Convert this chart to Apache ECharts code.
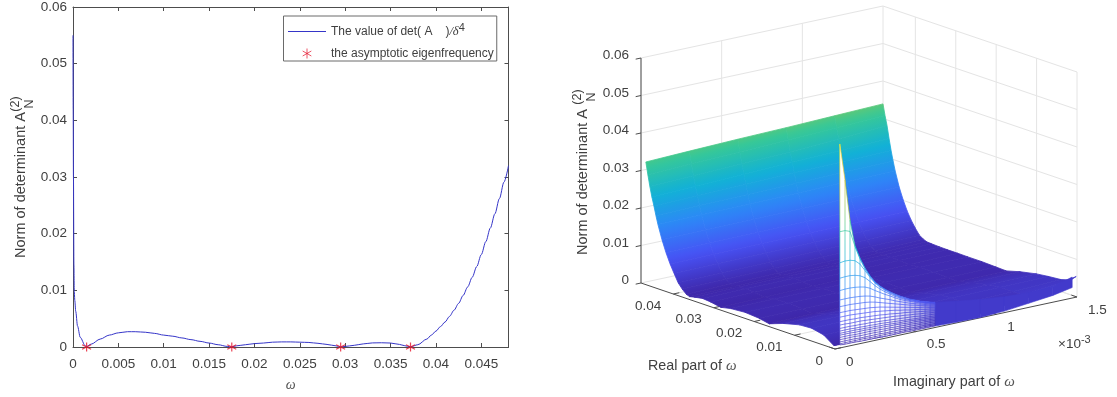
<!DOCTYPE html>
<html><head><meta charset="utf-8">
<style>html,body{margin:0;padding:0;background:#fff}#c{width:1117px;height:397px}</style>
<script src="https://cdn.jsdelivr.net/npm/echarts@6/dist/echarts.min.js"></script>
</head><body><div id="c"></div>
<script>
// ---------- left panel data ----------
const curveOmega=[0,0.00002,0.00005,0.0001,0.00014,0.0002,0.0003,0.0005,0.0008,0.00135,0.0015,0.002,0.003,0.004,0.005,0.006,0.00686,0.008,0.009,0.01,0.011,0.012,0.013,0.014,0.015,0.016,0.017,0.0175,0.018,0.019,0.02,0.021,0.022,0.023,0.024,0.025,0.026,0.027,0.028,0.029,0.0295,0.03,0.031,0.032,0.033,0.034,0.035,0.036,0.0365,0.0372,0.038,0.039,0.0395,0.04,0.0405,0.041,0.0415,0.042,0.0425,0.043,0.0435,0.044,0.0445,0.045,0.0455,0.046,0.0465,0.047,0.0475,0.048];
const curveValue=[0.055,0.042,0.03,0.0145,0.0098,0.0082,0.0063,0.0037,0.0017,0.0002,0.0001,0.0005,0.0014,0.0021,0.0025,0.0027,0.0027,0.0026,0.0024,0.0021,0.0019,0.0016,0.0013,0.001,0.0007,0.0004,0.0001,0.00003,0.0002,0.0004,0.0006,0.0007,0.00085,0.0009,0.0009,0.00085,0.0008,0.00065,0.00045,0.0002,0.00003,0.0001,0.0003,0.00055,0.00072,0.00075,0.0007,0.00045,0.00025,0.00003,0.0004,0.0014,0.0021,0.0028,0.0036,0.0044,0.0054,0.0065,0.0077,0.0091,0.0106,0.0123,0.0142,0.0163,0.0186,0.021,0.0235,0.0262,0.0291,0.032];
const eigenOmega=[0.0015,0.0175,0.0295,0.0372];
const xTicks=[0,0.005,0.01,0.015,0.02,0.025,0.03,0.035,0.04,0.045];
const yTicks=[0,0.01,0.02,0.03,0.04,0.05,0.06];

// ---------- right panel data (omega re, omega im in 1e-3, z in 1e-3) ----------
const reTicks=[0,0.01,0.02,0.03,0.04];
const imTicks=[0,0.5,1,1.5];
const zTicks=[0,0.01,0.02,0.03,0.04,0.05,0.06];
const surfIm=[0.03,0.3,0.6,0.9,1.2,1.5];
const surfRe=[0.048,0.0475,0.047,0.0465,0.046,0.0455,0.045,0.044,0.043,0.042,0.041,0.04,0.039,0.038,0.0372,0.036,0.034,0.032,0.0295,0.027,0.0235,0.02,0.0175,0.014,0.01,0.007,0.004,0.0015,0.0002];
const surfZ=[
[32,32.4,32.8,33.1,33.5,33.9],[28.8,29.2,29.6,30,30.5,31],[25.8,26.2,26.6,27,27.7,28.5],[23.2,23.6,24,24.4,24.8,25.2],
[21,21.2,21.5,21.8,22,22.2],[18.6,18.8,19,19.2,19.4,19.6],[16.4,16.5,16.6,16.8,17,17.2],[12.7,12.8,12.9,13,13.1,13.2],
[9.6,9.7,9.8,9.9,10,10.1],[7,7.1,7.2,7.3,7.4,7.5],[4.8,4.9,5,5.1,5.2,5.4],[2.7,2.8,3,3.2,3.4,3.7],
[1.4,1.5,1.7,1.9,2,2.2],[0.4,0.6,0.8,1,1.2,1.5],[0.05,0.2,0.4,0.6,0.8,1.1],[0.35,0.5,0.6,0.7,0.8,1],
[0.75,0.8,0.85,0.9,0.9,0.9],[0.55,0.6,0.65,0.7,0.75,0.85],[0.03,0.2,0.35,0.5,0.65,0.85],[0.6,0.65,0.7,0.75,0.8,0.8],
[0.9,0.9,0.85,0.85,0.85,0.8],[0.6,0.65,0.65,0.65,0.65,0.65],[0.03,0.2,0.3,0.4,0.5,0.55],[1.4,1.5,1.5,1.5,1.5,1.6],
[2.5,2.5,2.4,2.4,2.4,2.5],[2.7,2.7,2.7,2.7,2.8,2.9],[2,2.1,2.2,2.4,2.7,3.2],[0.1,0.6,1.2,2,2.8,4],[0.8,0.4,0.6,1,2.5,5.4]];
const wallIm=[0.03,0.062,0.093,0.124,0.155,0.186,0.217,0.248,0.279,0.31,0.341,0.372,0.403,0.434,0.465,0.496,0.527,0.558,0.589,0.62];
const wallZ=[
[54.4,44.5,33.5,26.4,22.8,19.9,17.5,15.6,14.2,13.1,12.1,11.2,10.4,9.7,9,8.5,7.9,7.5,7.1,6.7],
[31,31,30.5,26.2,22.6,19.7,17.4,15.5,14.1,13,12,11.1,10.3,9.6,8.9,8.4,7.8,7.4,7,6.6],
[22.7,22.9,22.8,22.4,21.2,19.2,17.1,15.3,13.9,12.8,11.8,10.9,10.1,9.4,8.8,8.3,7.7,7.3,6.9,6.5],
[18.6,18.7,18.7,18.5,18.1,17.3,16,14.6,13.4,12.4,11.5,10.6,9.9,9.2,8.6,8.1,7.6,7.2,6.8,6.4],
[15.3,15.4,15.4,15.3,15.1,14.8,14.2,13.3,12.5,11.7,11,10.2,9.5,8.9,8.4,7.9,7.4,7,6.6,6.2],
[12.8,12.8,12.8,12.7,12.6,12.4,12.1,11.6,11,10.5,10,9.4,8.9,8.4,7.9,7.5,7.1,6.7,6.3,6],
[11,11,11,10.9,10.8,10.7,10.5,10.2,9.8,9.4,9,8.6,8.2,7.8,7.4,7.1,6.7,6.4,6,5.7],
[9.4,9.4,9.4,9.3,9.2,9.1,9,8.8,8.6,8.3,8,7.7,7.4,7.1,6.8,6.5,6.2,6,5.6,5.3],
[8.2,8.2,8.2,8.1,8,7.9,7.8,7.7,7.5,7.3,7.1,6.9,6.6,6.4,6.1,5.9,5.7,5.4,5.2,4.9],
[7,7,7,6.9,6.9,6.8,6.7,6.6,6.5,6.3,6.2,6,5.8,5.7,5.5,5.3,5.1,4.9,4.7,4.5],
[6.1,6.1,6,6,6,5.9,5.8,5.7,5.6,5.5,5.4,5.3,5.1,5,4.8,4.7,4.5,4.4,4.2,4.1],
[5.2,5.2,5.2,5.1,5.1,5,5,4.9,4.8,4.7,4.6,4.5,4.4,4.3,4.2,4.1,3.9,3.8,3.7,3.6],
[4.5,4.5,4.5,4.4,4.4,4.3,4.3,4.2,4.2,4.1,4,3.9,3.8,3.7,3.6,3.5,3.4,3.3,3.2,3.1],
[3.9,3.9,3.9,3.9,3.8,3.8,3.7,3.7,3.6,3.6,3.5,3.4,3.3,3.3,3.2,3.1,3,2.9,2.8,2.7],
[3.4,3.4,3.4,3.3,3.3,3.3,3.2,3.2,3.1,3.1,3,3,2.9,2.8,2.7,2.7,2.6,2.5,2.4,2.3],
[2.8,2.8,2.8,2.7,2.7,2.7,2.7,2.6,2.6,2.5,2.5,2.4,2.4,2.3,2.3,2.2,2.1,2.1,2,1.9],
[2.2,2.2,2.2,2.2,2.1,2.1,2.1,2.1,2,2,2,1.9,1.9,1.8,1.8,1.7,1.7,1.6,1.6,1.5],
[1.6,1.6,1.6,1.6,1.5,1.5,1.5,1.5,1.5,1.4,1.4,1.4,1.4,1.3,1.3,1.2,1.2,1.2,1.1,1.1],
[1.1,1.1,1.1,1.1,1.1,1.1,1,1,1,1,1,0.9,0.9,0.9,0.9,0.8,0.8,0.8,0.8,0.7],
[0.8,0.7,0.7,0.7,0.6,0.6,0.6,0.6,0.6,0.5,0.5,0.5,0.5,0.5,0.4,0.4,0.4,0.4,0.4,0.4]];
const wallTint=[0,0,0,0,0,0,0,0,0,0.04,0.08,0.12,0.18,0.24,0.3,0.38,0.46,0.56,0.68,0.8];
const stripIm=[0.62,0.75,0.9,1.05,1.2,1.35,1.47];
const stripTop=[6.7,5.8,4.9,4.2,3.9,4.1,5.6];
const stripBottom=[0.4,0.2,0.1,0.4,1.1,1.8,2.8];

const parula=['#3e26a8','#4752f4','#2d87f7','#12b1d6','#37c897','#abc739','#fec338','#f9fb15'];
const TXT='#404040', AX='#4d4d4d', GRIDC='#e4e4e4', BLUE='#3535c8';
const SANS='"Liberation Sans",Arial,sans-serif', SERIF='"Liberation Serif",serif';

function hex(c){return [1,3,5].map(i=>parseInt(c.substr(i,2),16));}
function pcolor(z){ // z in 1e-3
  let t=Math.max(0,Math.min(1,z/55))*(parula.length-1);
  let i=Math.min(parula.length-2,Math.floor(t)),f=t-i,a=hex(parula[i]),b=hex(parula[i+1]);
  return 'rgb('+a.map((v,k)=>Math.round(v+(b[k]-v)*f)).join(',')+')';
}
// orthographic view of the box: view units on hidden x/y axes of grid 1
function view(re,im,z){return [-re*194/0.048+im*242/1.5, re*66/0.048+im*52/1.5+z*3.75];}
function grad(p0,p1,z0,z1){
  return new echarts.graphic.LinearGradient(p0[0],p0[1],p1[0],p1[1],[
    {offset:0,color:pcolor(z0)},{offset:.5,color:pcolor((z0+z1)/2)},{offset:1,color:pcolor(z1)}],true);
}
function seg(p,q,stroke,w,op){return {type:'line',shape:{x1:p[0],y1:p[1],x2:q[0],y2:q[1]},style:{stroke:stroke,lineWidth:w,opacity:op==null?1:op},silent:true};}
function label(p,dx,dy,text,align){return {type:'text',style:{text:text,x:p[0]+dx,y:p[1]+dy,fill:TXT,font:'13.5px '+SANS,align:align,verticalAlign:'middle'},silent:true};}

const custom3d={type:'custom',coordinateSystem:'cartesian2d',xAxisIndex:2,yAxisIndex:2,silent:true,clip:false,animation:false};
function renderBox(params,api){
  const P=(re,im,z)=>api.coord(view(re,im,z)),c=[];
  const RM=0.048,IM=1.5,ZM=60;
  zTicks.forEach(t=>{const z=t*1000;
    c.push(seg(P(RM,0,z),P(RM,IM,z),GRIDC,1),seg(P(RM,IM,z),P(0,IM,z),GRIDC,1));});
  imTicks.forEach(t=>{c.push(seg(P(RM,t,0),P(RM,t,ZM),GRIDC,1));if(t>0)c.push(seg(P(RM,t,0),P(0,t,0),GRIDC,1));});
  reTicks.forEach(t=>{c.push(seg(P(t,IM,0),P(t,IM,ZM),GRIDC,1));if(t>0)c.push(seg(P(t,0,0),P(t,IM,0),GRIDC,1));});
  c.push(seg(P(RM,0,0),P(RM,0,ZM),AX,1),seg(P(0,0,0),P(RM,0,0),AX,1),seg(P(0,0,0),P(0,IM,0),AX,1));
  zTicks.forEach(t=>{const q=P(RM,0,t*1000);c.push(seg(q,P(RM,-0.033,t*1000),AX,1),label(q,-12,-2.5,String(t),'right'));});
  reTicks.forEach(t=>{const q=P(t,0,0);c.push(seg(q,P(t,0.037,0),AX,1),label(q,-12,12,String(t),'right'));});
  imTicks.forEach(t=>{const q=P(0,t,0);c.push(seg(q,P(0.0014,t,0),AX,1),label(q,11,13,String(t),'left'));});
  return {type:'group',children:c};
}
function renderSurface(params,api){
  const P=(re,im,z)=>api.coord(view(re,im,z)),c=[];
  for(let i=0;i<surfRe.length-1;i++)for(let j=surfIm.length-2;j>=0;j--){
    const r0=surfRe[i],r1=surfRe[i+1],a=surfIm[j],b=surfIm[j+1];
    const A=P(r0,a,surfZ[i][j]),B=P(r0,b,surfZ[i][j+1]),C=P(r1,b,surfZ[i+1][j+1]),D=P(r1,a,surfZ[i+1][j]);
    const z0=(surfZ[i][j]+surfZ[i][j+1])/2,z1=(surfZ[i+1][j]+surfZ[i+1][j+1])/2;
    const m0=[(A[0]+B[0])/2,(A[1]+B[1])/2],m1=[(C[0]+D[0])/2,(C[1]+D[1])/2];
    const ex=B[0]-A[0],ey=B[1]-A[1],L=Math.hypot(ex,ey),nx=-ey/L,ny=ex/L;
    const d=(m1[0]-m0[0])*nx+(m1[1]-m0[1])*ny;
    const g=grad(m0,[m0[0]+nx*d,m0[1]+ny*d],z0,z1);
    c.push({type:'polygon',shape:{points:[A,B,C,D]},style:{fill:g,stroke:g,lineWidth:0.8},silent:true});
  }
  return {type:'group',children:c};
}
function renderWall(params,api){
  const re=0,c=[],P=(im,z)=>api.coord(view(re,im,z));
  const top=wallZ[0],bot=wallZ[wallZ.length-1],tint=pcolor(3.6);
  for(let j=0;j<stripIm.length-1;j++){
    c.push({type:'polygon',shape:{points:[P(stripIm[j],stripTop[j]),P(stripIm[j+1],stripTop[j+1]),P(stripIm[j+1],stripBottom[j+1]),P(stripIm[j],stripBottom[j])]},style:{fill:tint,stroke:tint,lineWidth:.6},silent:true});
  }
  const poly=[];
  wallIm.forEach((m,j)=>poly.push(P(m,top[j])));
  for(let j=wallIm.length-1;j>=0;j--)poly.push(P(wallIm[j],bot[j]));
  c.push({type:'polygon',shape:{points:poly},style:{fill:'#fff'},silent:true});
  // dense mesh merges into the solid strip
  for(let j=0;j<wallIm.length-1;j++){
    if(wallTint[j]>0)c.push({type:'polygon',shape:{points:[P(wallIm[j],top[j]),P(wallIm[j+1],top[j+1]),P(wallIm[j+1],bot[j+1]),P(wallIm[j],bot[j])]},style:{fill:tint,opacity:wallTint[j]},silent:true});
  }
  wallZ.forEach(row=>{
    for(let j=0;j<wallIm.length-1;j++){
      const p=P(wallIm[j],row[j]),q=P(wallIm[j+1],row[j+1]);
      c.push(seg(p,q,pcolor((row[j]+row[j+1])/2),0.8,0.85));
    }
  });
  wallIm.forEach((m,j)=>{
    for(let k=0;k<wallZ.length-1;k++){
      const z0=wallZ[k][j],z1=wallZ[k+1][j],p=P(m,z0),q=P(m,z1);
      c.push(seg(p,q,grad(p,[q[0],q[1]+0.01],z0,z1),0.8,0.85));
    }
  });
  return {type:'group',children:c};
}
function scriptText(x,y,t,size,rot){
  return {type:'text',x:x,y:y,rotation:rot||0,silent:true,
    style:{text:t,fill:TXT,font:size+'px '+SANS,align:'center',verticalAlign:'middle'}};
}

const chart=echarts.init(document.getElementById('c'),null,{renderer:'canvas'});
chart.setOption({
  animation:false,backgroundColor:'#fff',
  grid:[{left:73,top:6.5,width:435.5,height:343.2,containLabel:false},{left:560,top:0,width:557,height:397}],
  xAxis:[
    {gridIndex:0,type:'value',min:0,max:0.048,position:'bottom',
     name:'ω',nameLocation:'middle',nameGap:31,nameTextStyle:{fontFamily:SERIF,fontStyle:'italic',fontSize:14,color:'#555'},
     axisLine:{onZero:false,lineStyle:{color:AX}},splitLine:{show:false},
     axisTick:{inside:true,length:4,lineStyle:{color:AX},customValues:xTicks},
     axisLabel:{customValues:xTicks,color:TXT,fontSize:13.5,fontFamily:SANS,margin:10,hideOverlap:false,showMinLabel:true,showMaxLabel:true,formatter:v=>String(v)}},
    {gridIndex:0,type:'value',min:0,max:0.048,position:'top',axisLine:{onZero:false,lineStyle:{color:AX}},splitLine:{show:false},
     axisTick:{inside:true,length:4,lineStyle:{color:AX},customValues:xTicks},axisLabel:{show:false}},
    {gridIndex:1,type:'value',min:-275,max:282,show:false}],
  yAxis:[
    {gridIndex:0,type:'value',min:0,max:0.06,interval:0.01,position:'left',
     name:'Norm of determinant A{sp|}',nameLocation:'middle',nameGap:45,nameRotate:90,
     nameTextStyle:{color:TXT,fontSize:14.5,fontFamily:SANS,rich:{sp:{width:16}}},
     axisLine:{onZero:false,lineStyle:{color:AX}},splitLine:{show:false},
     axisTick:{inside:true,length:4,lineStyle:{color:AX}},
     axisLabel:{color:TXT,fontSize:13.5,fontFamily:SANS,margin:6,formatter:v=>String(v)}},
    {gridIndex:0,type:'value',min:0,max:0.06,interval:0.01,position:'right',axisLine:{onZero:false,lineStyle:{color:AX}},splitLine:{show:false},
     axisTick:{inside:true,length:4,lineStyle:{color:AX}},axisLabel:{show:false}},
    {gridIndex:1,type:'value',min:-48,max:349,show:false}],
  legend:{left:283.5,top:16,orient:'vertical',itemWidth:38,itemHeight:10,itemGap:8,padding:[6,3,0,4],
    borderColor:'#6a6a6a',borderWidth:1,backgroundColor:'#fff',selectedMode:false,
    lineStyle:{width:1},
    textStyle:{color:TXT,fontSize:12,fontFamily:SANS,rich:{
      sp:{width:13,fontSize:12},
      d:{fontFamily:SERIF,fontStyle:'italic',fontSize:12.5,color:TXT},
      u:{fontSize:11,color:TXT,padding:[0,0,8,0],fontFamily:SANS}}},
    formatter:n=>n.startsWith('The')?'The value of det( A{sp|}){d|/δ}{u|4}':n,
    data:[{name:'The value of det( A_N^(2))/δ^4',itemStyle:{opacity:0}},
          {name:'the asymptotic eigenfrequency',itemStyle:{borderWidth:0.9}}]},
  series:[
    {name:'The value of det( A_N^(2))/δ^4',type:'line',xAxisIndex:0,yAxisIndex:0,symbol:'none',smooth:0.3,smoothMonotone:'x',z:3,
     lineStyle:{color:BLUE,width:1},itemStyle:{color:BLUE},data:curveOmega.map((x,i)=>[x,curveValue[i]])},
    {name:'the asymptotic eigenfrequency',type:'scatter',xAxisIndex:0,yAxisIndex:0,clip:false,z:4,
     symbol:'path://M0,-5 L0,5 M-4.33,-2.5 L4.33,2.5 M-4.33,2.5 L4.33,-2.5',symbolSize:9,
     itemStyle:{color:'none',borderColor:'#e5152c',borderWidth:1.2},data:eigenOmega.map(x=>[x,0])},
    Object.assign({},custom3d,{name:'box',data:[[0,0]],z:1,renderItem:renderBox}),
    Object.assign({},custom3d,{name:'surface',data:[[0,0]],z:2,renderItem:renderSurface}),
    Object.assign({},custom3d,{name:'wall',data:[[0,0]],z:3,renderItem:renderWall})],
  graphic:[
    scriptText(16,104,'(2)',12.5,Math.PI/2),
    scriptText(29.5,104,'N',12.5,Math.PI/2),
    scriptText(438,26.5,'(2)',10),
    scriptText(436,36.5,'N',10),
    scriptText(583,182,'Norm of determinant A',14.5,Math.PI/2),
    scriptText(578,97,'(2)',12.5,Math.PI/2),
    scriptText(592,97,'N',12.5,Math.PI/2),
    {type:'text',x:648,y:366.5,silent:true,style:{text:'Real part of {w|ω}',fill:TXT,font:'14.3px '+SANS,align:'left',verticalAlign:'middle',rich:{w:{fontFamily:SERIF,fontStyle:'italic',fontSize:15,fill:'#555'}}}},
    {type:'text',x:893,y:382.5,silent:true,style:{text:'Imaginary part of {w|ω}',fill:TXT,font:'14.3px '+SANS,align:'left',verticalAlign:'middle',rich:{w:{fontFamily:SERIF,fontStyle:'italic',fontSize:15,fill:'#555'}}}},
    {type:'text',x:1058,y:344,silent:true,style:{text:'×10{u|-3}',fill:TXT,font:'13.5px '+SANS,align:'left',verticalAlign:'middle',rich:{u:{fontSize:11,fill:TXT,padding:[0,0,8,0]}}}}
  ]
});
</script></body></html>
